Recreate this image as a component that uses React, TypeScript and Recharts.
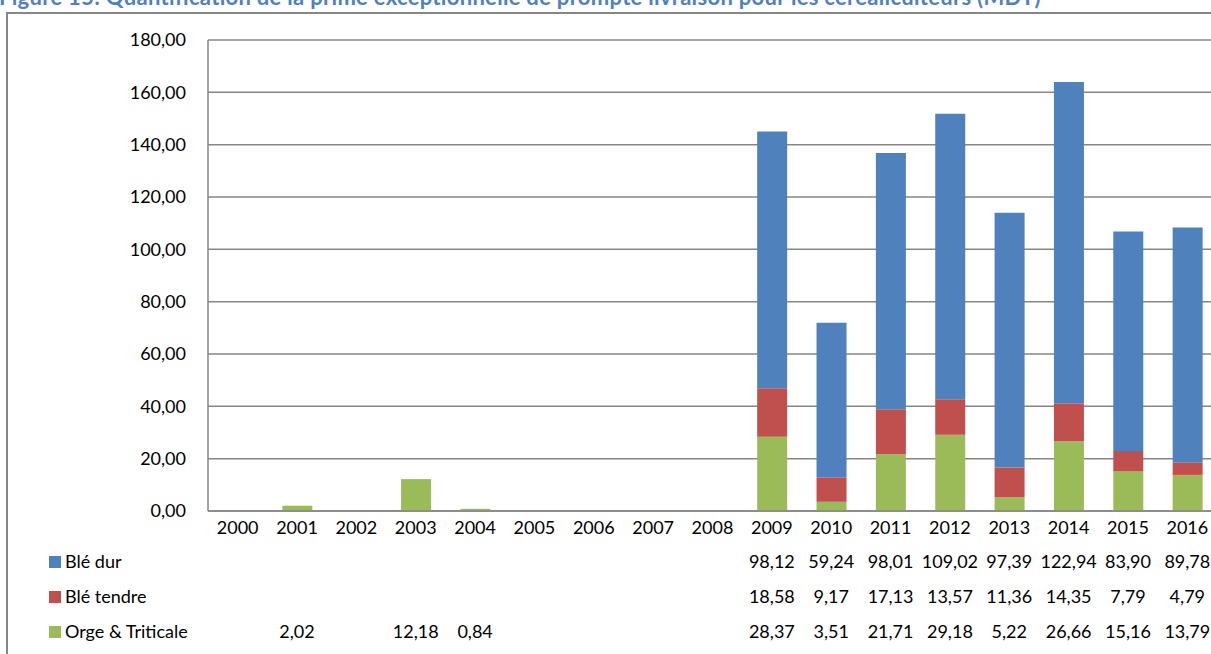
import { BarChart, Bar, XAxis, YAxis, CartesianGrid } from 'recharts'

const years = ['2000', '2001', '2002', '2003', '2004', '2005', '2006', '2007', '2008', '2009', '2010', '2011', '2012', '2013', '2014', '2015', '2016']
const bleDur = [null, null, null, null, null, null, null, null, null, 98.12, 59.24, 98.01, 109.02, 97.39, 122.94, 83.9, 89.78]
const bleTendre = [null, null, null, null, null, null, null, null, null, 18.58, 9.17, 17.13, 13.57, 11.36, 14.35, 7.79, 4.79]
const orge = [null, 2.02, null, 12.18, 0.84, null, null, null, null, 28.37, 3.51, 21.71, 29.18, 5.22, 26.66, 15.16, 13.79]
const yTicks = [0, 20, 40, 60, 80, 100, 120, 140, 160, 180]

const series = [
  { key: 'dur', name: 'Blé dur', color: '#4F81BD', values: bleDur },
  { key: 'tendre', name: 'Blé tendre', color: '#C0504D', values: bleTendre },
  { key: 'orge', name: 'Orge & Triticale', color: '#9BBB59', values: orge },
]

const FONT = 'Lato, "Open Sans", sans-serif'
const GRAY = '#868686'
const FS = 18

const fmt = (v: number | null) => (v == null ? '' : v.toFixed(2).replace('.', ','))

const data = years.map((year, i) => ({
  year,
  dur: bleDur[i],
  tendre: bleTendre[i],
  orge: orge[i],
}))

// year label plus the data table rows under each category
function TableTick(props: any) {
  const { x, y, payload } = props
  const i = years.indexOf(payload.value)
  return (
    <g fontFamily={FONT} fontSize={FS} fill="#000" textAnchor="middle">
      <text x={x} y={y + 23}>{payload.value}</text>
      {series.map((s, r) => (
        <text key={s.key} x={x} y={y + 57 + r * 35}>{fmt(s.values[i])}</text>
      ))}
    </g>
  )
}

export default function App() {
  return (
    <div style={{ position: 'absolute', left: 0, top: 0, width: 1211, height: 654, overflow: 'hidden', background: '#fff' }}>
      <div
        style={{
          position: 'absolute', left: -1, top: -14, whiteSpace: 'nowrap',
          fontFamily: FONT, fontWeight: 700, fontSize: 22, lineHeight: '22px', letterSpacing: 0.3, color: '#4F81BD',
        }}
      >
        Figure 15: Quantification de la prime exceptionnelle de prompte livraison pour les céréaliculteurs (MDT)
      </div>
      <div style={{ position: 'absolute', left: 6, top: 12, width: 1300, height: 700, borderLeft: `2px solid ${GRAY}`, borderTop: `2px solid ${GRAY}` }} />
      <div style={{ position: 'absolute', left: 0, top: 0 }}>
        <BarChart width={1232} height={654} data={data} margin={{ top: 40, right: 15, bottom: 0, left: 8 }} barSize={30}>
          <CartesianGrid vertical={false} stroke={GRAY} strokeWidth={1.5} />
          <XAxis
            dataKey="year"
            interval={0}
            height={143}
            tickLine={false}
            tickSize={0}
            tickMargin={0}
            axisLine={{ stroke: GRAY, strokeWidth: 1.5 }}
            tick={<TableTick />}
          />
          <YAxis
            width={200}
            domain={[0, 180]}
            ticks={yTicks}
            tickFormatter={(v: number) => fmt(v)}
            tickLine={false}
            tickSize={0}
            tickMargin={22}
            axisLine={{ stroke: GRAY, strokeWidth: 1.5 }}
            tick={{ fill: '#000', fontFamily: FONT, fontSize: FS }}
          />
          <Bar dataKey="orge" stackId="a" fill="#9BBB59" isAnimationActive={false} />
          <Bar dataKey="tendre" stackId="a" fill="#C0504D" isAnimationActive={false} />
          <Bar dataKey="dur" stackId="a" fill="#4F81BD" isAnimationActive={false} />
        </BarChart>
      </div>
      <svg style={{ position: 'absolute', left: 0, top: 0 }} width={220} height={654}>
        {series.map((s, r) => (
          <g key={s.key}>
            <rect x={49} y={556 + r * 35} width={12} height={12} fill={s.color} />
            <text x={65} y={568 + r * 35} fontFamily={FONT} fontSize={FS} fill="#000">{s.name}</text>
          </g>
        ))}
      </svg>
    </div>
  )
}
